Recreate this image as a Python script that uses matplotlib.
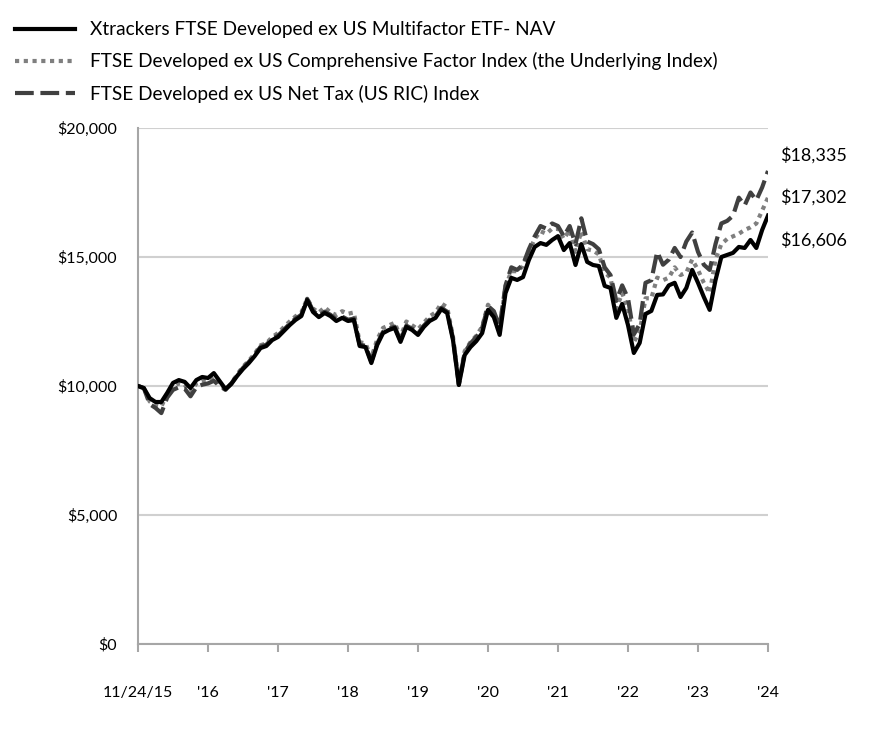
import matplotlib
matplotlib.use("Agg")
import matplotlib.pyplot as plt
from matplotlib.ticker import FuncFormatter

plt.rcParams['font.family'] = ['Lato', 'DejaVu Sans']

tick_labels = ["11/24/15", "'16", "'17", "'18", "'19", "'20", "'21", "'22", "'23", "'24"]

series_names = [
    "Xtrackers FTSE Developed ex US Multifactor ETF- NAV",
    "FTSE Developed ex US Comprehensive Factor Index (the Underlying Index)",
    "FTSE Developed ex US Net Tax (US RIC) Index",
]

# growth of $10,000, one value per month
nav = [10000, 9920, 9530, 9380, 9380, 9730, 10120, 10230, 10160, 9920,
       10230, 10350, 10310, 10500, 10190, 9880, 10080, 10390, 10660, 10890,
       11160, 11470, 11550, 11780, 11900, 12130, 12360, 12560, 12710, 13330,
       12870, 12670, 12830, 12710, 12520, 12640, 12520, 12560, 11550, 11510,
       10890, 11590, 12050, 12170, 12250, 11710, 12290, 12170, 11980, 12290,
       12520, 12640, 12980, 12830, 11780, 10040, 11200, 11510, 11740, 12050,
       12950, 12670, 11980, 13600, 14190, 14110, 14220, 14880, 15390, 15540,
       15470, 15660, 15810, 15270, 15540, 14690, 15500, 14810, 14690, 14650,
       13880, 13800, 12640, 13180, 12360, 11280, 11670, 12790, 12910, 13530,
       13550, 13900, 14000, 13450, 13800, 14500, 14000, 13450, 12950, 14100,
       15000, 15080, 15160, 15390, 15350, 15660, 15350, 16050, 16606]

underlying = [10000, 9920, 9400, 9250, 9200, 9700, 10000, 10100, 10050, 9750,
              10100, 10200, 10200, 10350, 10100, 9850, 10100, 10450, 10750, 10980,
              11250, 11580, 11650, 11900, 12050, 12280, 12500, 12700, 12850, 13380,
              13000, 12850, 13050, 12850, 12750, 12900, 12800, 12850, 11700, 11650,
              11100, 11800, 12250, 12350, 12450, 11900, 12500, 12350, 12200, 12450,
              12700, 12850, 13200, 13050, 11900, 10100, 11350, 11700, 11950, 12300,
              13150, 12850, 12250, 13850, 14450, 14450, 14650, 15200, 15700, 16000,
              15900, 16100, 16100, 15700, 16050, 15200, 16000, 15300, 15250, 15100,
              14400, 14200, 13000, 13600, 13000, 11700, 12100, 13400, 13400, 14200,
              14100, 14200, 14600, 14300, 14400, 14900, 14500, 14000, 13600, 14900,
              15500, 15700, 15800, 15900, 16050, 16150, 16300, 16800, 17302]

net_tax = [10000, 9920, 9300, 9150, 8950, 9550, 9850, 9950, 9900, 9600,
           9950, 10050, 10100, 10200, 10000, 9850, 10100, 10420, 10700, 10930,
           11200, 11520, 11600, 11830, 11950, 12180, 12410, 12610, 12760, 13380,
           12920, 12720, 12880, 12760, 12570, 12690, 12570, 12610, 11600, 11560,
           10940, 11640, 12100, 12220, 12300, 11760, 12340, 12220, 12030, 12340,
           12570, 12690, 13030, 12880, 11850, 10050, 11300, 11650, 11900, 12250,
           13100, 12900, 12300, 13900, 14600, 14500, 14700, 15300, 15800, 16200,
           16100, 16300, 16200, 15800, 16200, 15500, 16500, 15600, 15500, 15300,
           14600, 14300, 13300, 13900, 13400, 12000, 12400, 14000, 14100, 15200,
           14700, 14900, 15350, 15000, 15600, 15950, 15200, 14700, 14500, 15500,
           16300, 16400, 16600, 17300, 17000, 17500, 17200, 17700, 18335]

end_labels = ["$18,335", "$17,302", "$16,606"]

months = list(range(len(nav)))
tick_pos = [i * 12 for i in range(len(tick_labels))]

fig = plt.figure(figsize=(8.88, 7.32), dpi=100)
ax = fig.add_axes([138 / 888, 1 - 644 / 732, 630 / 888, 516 / 732])

l2, = ax.plot(months, underlying, color='#7f7f7f', lw=3, ls=(0, (1, 1.1)), zorder=2)
l3, = ax.plot(months, net_tax, color='#404040', lw=3, ls=(0, (4.5, 1.6)), zorder=3)
l1, = ax.plot(months, nav, color='black', lw=3, zorder=4)

ax.set_xlim(0, tick_pos[-1])
ax.set_ylim(0, 20000)
ax.set_yticks([0, 5000, 10000, 15000, 20000])
ax.yaxis.set_major_formatter(FuncFormatter(lambda v, p: '${:,.0f}'.format(v)))
ax.set_xticks(tick_pos)
ax.set_xticklabels(tick_labels)

for s in ['top', 'right']:
    ax.spines[s].set_visible(False)
for s in ['left', 'bottom']:
    ax.spines[s].set_color('#a6a6a6')
    ax.spines[s].set_linewidth(1.5)
ax.grid(axis='y', color='#d0d0d0', lw=1.5)
ax.set_axisbelow(True)
ax.tick_params(axis='y', length=0, pad=15, labelsize=11.5, colors='#000000')
ax.tick_params(axis='x', length=6, width=1.5, color='#a6a6a6', pad=24, labelsize=11.5)

# end values
offsets = [11, 0, -18]
for line, lab, off in zip([net_tax, underlying, nav], end_labels, offsets):
    ax.annotate(lab, xy=(months[-1], line[-1]), xytext=(9, off), textcoords='offset points',
                va='center', ha='left', fontsize=13, annotation_clip=False)

fig.legend([l1, l2, l3], series_names, loc='upper left', bbox_to_anchor=(0.017, 0.971),
           frameon=False, fontsize=13.7, handlelength=3.15, handletextpad=0.78,
           labelspacing=0.74, borderaxespad=0, borderpad=0)

fig.savefig('out.png', dpi=100)
